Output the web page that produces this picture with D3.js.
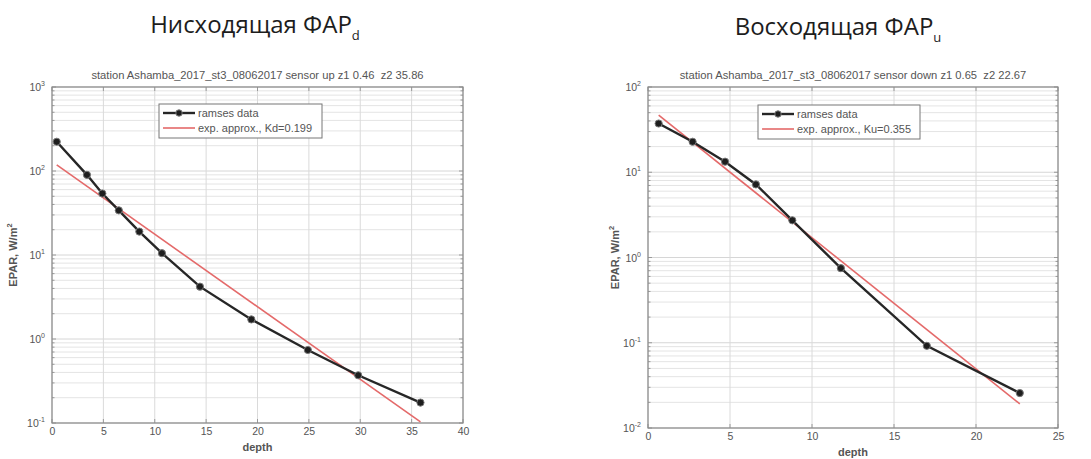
<!DOCTYPE html>
<html><head><meta charset="utf-8">
<script src="https://cdn.jsdelivr.net/npm/d3@7"></script>
<style>
html,body{margin:0;padding:0;background:#fff;}
svg{display:block;}
</style></head>
<body>
<svg id="chart" width="1091" height="459"></svg>
<script>
// ---------- data ----------
const leftDepth = [0.46, 3.4, 4.9, 6.5, 8.5, 10.7, 14.4, 19.4, 24.9, 29.8, 35.86];
const leftEpar  = [223, 90, 54, 34, 19, 10.5, 4.2, 1.71, 0.74, 0.37, 0.175];
const leftFitDepth = [0.46, 35.86];
const leftFitEpar  = [118, 0.103];

const rightDepth = [0.65, 2.72, 4.7, 6.58, 8.8, 11.76, 17.0, 22.67];
const rightEpar  = [37.3, 22.8, 13.3, 7.2, 2.73, 0.75, 0.092, 0.0257];
const rightFitDepth = [0.65, 22.67];
const rightFitEpar  = [46.7, 0.0192];

const leftXTicks = [0, 5, 10, 15, 20, 25, 30, 35, 40];
const rightXTicks = [0, 5, 10, 15, 20, 25];
const leftYExp = [-1, 0, 1, 2, 3];
const rightYExp = [-2, -1, 0, 1, 2];

const mainTitles = ["Нисходящая ФАР", "Восходящая ФАР"];
const mainSubs = ["d", "u"];
const subTitles = [
  "station Ashamba_2017_st3_08062017 sensor up z1 0.46  z2 35.86",
  "station Ashamba_2017_st3_08062017 sensor down z1 0.65  z2 22.67"
];
const legendLabels = [
  ["ramses data", "exp. approx., Kd=0.199"],
  ["ramses data", "exp. approx., Ku=0.355"]
];

// ---------- drawing ----------
const svg = d3.select("#chart");
const FONT = "'Liberation Sans', Arial, sans-serif";

function panel(cfg) {
  const g = svg.append("g");
  const x = d3.scaleLinear().domain(cfg.xDomain).range([cfg.left, cfg.right]);
  const y = d3.scaleLog().domain(cfg.yDomain).range([cfg.bottom, cfg.top]);

  // minor grid
  const minor = [];
  for (let e = cfg.yExp[0]; e < cfg.yExp[cfg.yExp.length - 1]; e++)
    for (let m = 2; m <= 9; m++) minor.push(m * Math.pow(10, e));
  g.append("g").selectAll("line").data(minor).join("line")
    .attr("x1", cfg.left).attr("x2", cfg.right)
    .attr("y1", d => y(d)).attr("y2", d => y(d))
    .attr("stroke", "#e4e4e4").attr("stroke-width", 1);
  // major grid
  const majors = cfg.yExp.map(e => Math.pow(10, e));
  g.append("g").selectAll("line").data(majors).join("line")
    .attr("x1", cfg.left).attr("x2", cfg.right)
    .attr("y1", d => y(d)).attr("y2", d => y(d))
    .attr("stroke", "#d6d6d6").attr("stroke-width", 1);
  g.append("g").selectAll("line").data(cfg.xTicks).join("line")
    .attr("x1", d => x(d)).attr("x2", d => x(d))
    .attr("y1", cfg.top).attr("y2", cfg.bottom)
    .attr("stroke", "#dadada").attr("stroke-width", 1);

  // tick marks (inside, all sides)
  const tk = g.append("g").attr("stroke", "#9a9a9a").attr("stroke-width", 1);
  cfg.xTicks.forEach(d => {
    tk.append("line").attr("x1", x(d)).attr("x2", x(d)).attr("y1", cfg.bottom).attr("y2", cfg.bottom - 4);
    tk.append("line").attr("x1", x(d)).attr("x2", x(d)).attr("y1", cfg.top).attr("y2", cfg.top + 4);
  });
  majors.concat(minor).forEach(d => {
    const len = majors.includes(d) ? 4 : 2.5;
    tk.append("line").attr("x1", cfg.left).attr("x2", cfg.left + len).attr("y1", y(d)).attr("y2", y(d));
    tk.append("line").attr("x1", cfg.right).attr("x2", cfg.right - len).attr("y1", y(d)).attr("y2", y(d));
  });

  // box
  g.append("rect").attr("x", cfg.left).attr("y", cfg.top)
    .attr("width", cfg.right - cfg.left).attr("height", cfg.bottom - cfg.top)
    .attr("fill", "none").attr("stroke", "#8a8a8a").attr("stroke-width", 1.2);

  // x tick labels via axis
  const xa = d3.axisBottom(x).tickValues(cfg.xTicks).tickSize(0).tickPadding(5).tickFormat(d3.format("d"));
  const xg = g.append("g").attr("transform", `translate(0,${cfg.bottom})`).call(xa);
  xg.select(".domain").remove();
  xg.selectAll("text").attr("font-family", FONT).attr("font-size", 10.5).attr("fill", "#555");

  // y tick labels with superscripts
  const yl = g.append("g");
  cfg.yExp.forEach(e => {
    const t = yl.append("text").attr("x", cfg.left - 7).attr("y", y(Math.pow(10, e)) + 4)
      .attr("text-anchor", "end").attr("font-family", FONT).attr("font-size", 10.5).attr("fill", "#555");
    t.append("tspan").text("10");
    t.append("tspan").attr("dy", -5).attr("font-size", 7).text(String(e));
  });

  // axis labels
  g.append("text").attr("x", (cfg.left + cfg.right) / 2).attr("y", cfg.bottom + cfg.xLabelDy)
    .attr("text-anchor", "middle").attr("font-family", FONT).attr("font-size", 11)
    .attr("font-weight", "bold").attr("fill", "#555").text("depth");
  const ylab = g.append("text")
    .attr("transform", `translate(${cfg.yLabelX},${(cfg.top + cfg.bottom) / 2}) rotate(-90)`)
    .attr("text-anchor", "middle").attr("font-family", FONT).attr("font-size", 11)
    .attr("font-weight", "bold").attr("fill", "#555");
  ylab.append("tspan").text("EPAR, W/m");
  ylab.append("tspan").attr("dy", -5).attr("font-size", 7.5).text("2");

  // subtitle
  g.append("text").attr("x", (cfg.left + cfg.right) / 2).attr("y", cfg.top - 8)
    .attr("text-anchor", "middle").attr("font-family", FONT).attr("font-size", 11.2)
    .style("white-space", "pre")
    .attr("fill", "#555").text(cfg.subTitle);

  // main title
  const mt = g.append("text").attr("x", cfg.titleX).attr("y", cfg.titleY)
    .attr("text-anchor", "middle").attr("font-family", "'Open Sans', sans-serif")
    .attr("font-size", 24).attr("fill", "#1d1d1d");
  mt.append("tspan").text(cfg.mainTitle);
  mt.append("tspan").attr("dy", 7).attr("font-size", 13).text(cfg.mainSub);

  // fit line
  const fit = cfg.fitDepth.map((d, i) => [d, cfg.fitEpar[i]]);
  g.append("path").datum(fit)
    .attr("d", d3.line().x(d => x(d[0])).y(d => y(d[1])))
    .attr("fill", "none").attr("stroke", "#e46a6a").attr("stroke-width", 1.6);

  // data line
  const data = cfg.depth.map((d, i) => [d, cfg.epar[i]]);
  g.append("path").datum(data)
    .attr("d", d3.line().x(d => x(d[0])).y(d => y(d[1])))
    .attr("fill", "none").attr("stroke", "#262626").attr("stroke-width", 2.4);
  g.append("g").selectAll("circle").data(data).join("circle")
    .attr("cx", d => x(d[0])).attr("cy", d => y(d[1])).attr("r", 3.6)
    .attr("fill", "#1e1e1e").attr("stroke", "#777").attr("stroke-width", 1);

  // legend
  const L = cfg.legend;
  g.append("rect").attr("x", L.x).attr("y", L.y).attr("width", L.w).attr("height", L.h)
    .attr("fill", "#fff").attr("stroke", "#777").attr("stroke-width", 1);
  const r1 = L.y + 9, r2 = L.y + 24;
  g.append("line").attr("x1", L.x + 4).attr("x2", L.x + 36).attr("y1", r1).attr("y2", r1)
    .attr("stroke", "#262626").attr("stroke-width", 2.4);
  g.append("circle").attr("cx", L.x + 20).attr("cy", r1).attr("r", 3.2).attr("fill", "#1e1e1e").attr("stroke", "#777");
  g.append("line").attr("x1", L.x + 4).attr("x2", L.x + 36).attr("y1", r2).attr("y2", r2)
    .attr("stroke", "#e46a6a").attr("stroke-width", 1.6);
  g.append("text").attr("x", L.x + 39).attr("y", r1 + 4).attr("font-family", FONT).attr("font-size", 11)
    .attr("fill", "#555").text(cfg.legendLabels[0]);
  g.append("text").attr("x", L.x + 39).attr("y", r2 + 4).attr("font-family", FONT).attr("font-size", 11)
    .attr("fill", "#555").text(cfg.legendLabels[1]);
}

panel({
  left: 52, right: 463, top: 87, bottom: 423,
  xDomain: [0, 40], yDomain: [0.1, 1000], xTicks: leftXTicks, yExp: leftYExp,
  depth: leftDepth, epar: leftEpar, fitDepth: leftFitDepth, fitEpar: leftFitEpar,
  subTitle: subTitles[0], mainTitle: mainTitles[0], mainSub: mainSubs[0],
  titleX: 255, titleY: 33, yLabelX: 17, xLabelDy: 28,
  legend: {x: 159, y: 104, w: 163, h: 34}, legendLabels: legendLabels[0]
});
panel({
  left: 648, right: 1058, top: 87, bottom: 428,
  xDomain: [0, 25], yDomain: [0.01, 100], xTicks: rightXTicks, yExp: rightYExp,
  depth: rightDepth, epar: rightEpar, fitDepth: rightFitDepth, fitEpar: rightFitEpar,
  subTitle: subTitles[1], mainTitle: mainTitles[1], mainSub: mainSubs[1],
  titleX: 838, titleY: 35, yLabelX: 619, xLabelDy: 28,
  legend: {x: 758, y: 105, w: 162, h: 34}, legendLabels: legendLabels[1]
});
</script>
</body></html>
